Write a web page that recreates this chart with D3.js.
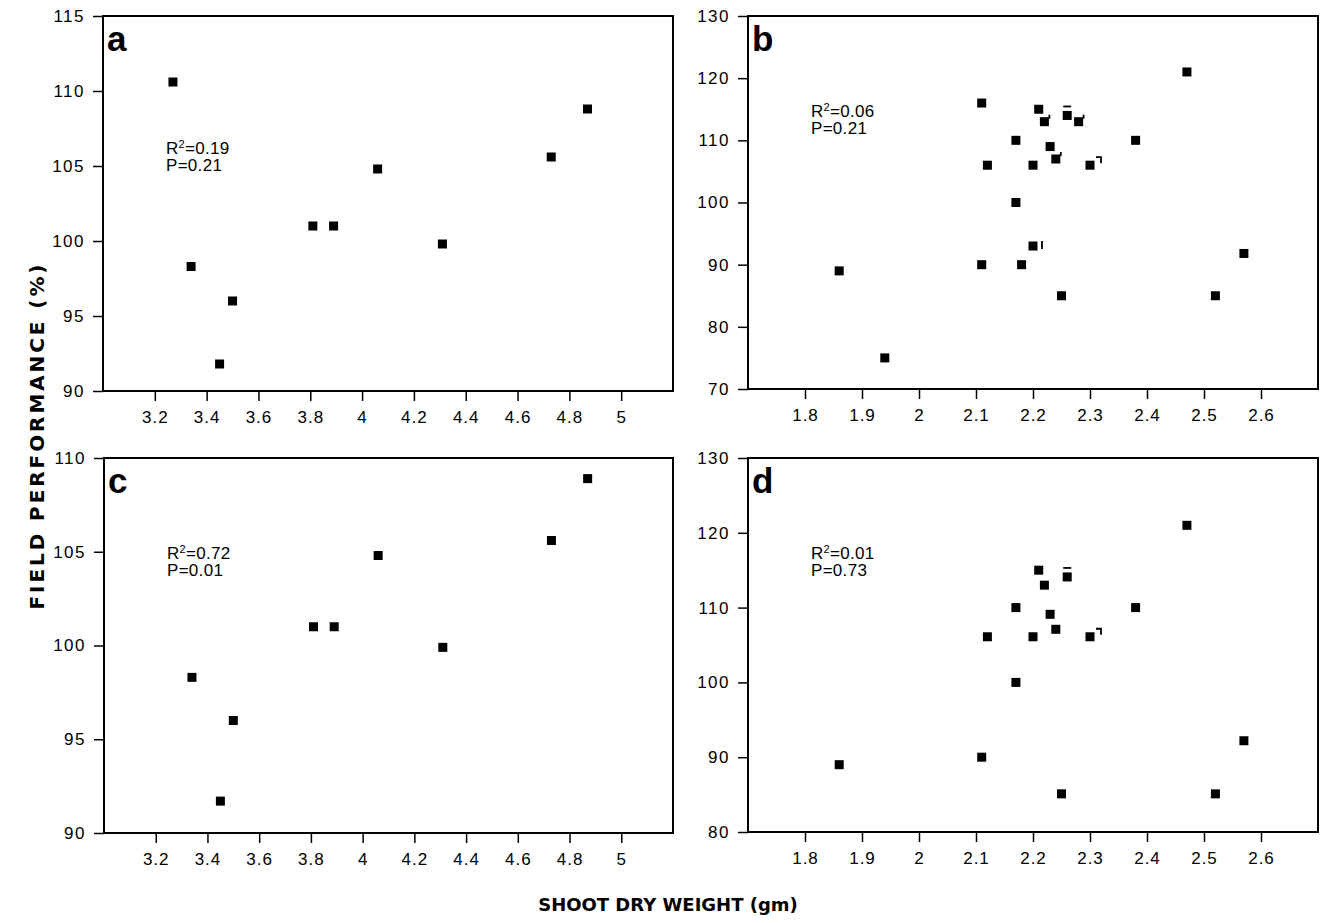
<!DOCTYPE html>
<html>
<head>
<meta charset="utf-8">
<script src="https://cdn.jsdelivr.net/npm/d3@7"></script>
<style>
  body { margin: 0; background: #fff; }
  svg text { font-family: "Liberation Sans", Arial, Helvetica, sans-serif; fill: #000; }
</style>
</head>
<body>
<div class="svg-container"></div>
<script>
// ---- data ----
// panel a
const shootA = [3.27, 3.34, 3.45, 3.50, 3.81, 3.89, 4.06, 4.31, 4.73, 4.87];
const fieldA = [110.6, 98.3, 91.8, 96.0, 101.0, 101.0, 104.8, 99.8, 105.6, 108.8];
// panel b
const shootB = [1.86, 1.94, 2.11, 2.11, 2.12, 2.17, 2.17, 2.18, 2.20, 2.20, 2.21, 2.22, 2.23, 2.24, 2.25, 2.26, 2.28, 2.30, 2.38, 2.47, 2.52, 2.57];
const fieldB = [89, 75, 116, 90, 106, 110, 100, 90, 106, 93, 115, 113, 109, 107, 85, 114, 113, 106, 110, 121, 85, 91.8];
// panel c
const shootC = [3.34, 3.45, 3.50, 3.81, 3.89, 4.06, 4.31, 4.73, 4.87];
const fieldC = [98.3, 91.7, 96.0, 101.0, 101.0, 104.8, 99.9, 105.6, 108.9];
// panel d
const shootD = [1.86, 2.11, 2.12, 2.17, 2.17, 2.20, 2.21, 2.22, 2.23, 2.24, 2.25, 2.26, 2.30, 2.38, 2.47, 2.52, 2.57];
const fieldD = [89.0, 90.0, 106.1, 110.0, 100.0, 106.1, 115.0, 113.0, 109.1, 107.1, 85.1, 114.1, 106.1, 110.0, 121.0, 85.1, 92.2];

// small overlap marks printed next to some points
const flagsB = [
  { x: 2.26, y: 114, type: 'dash' },
  { x: 2.30, y: 106, type: 'hook' },
  { x: 2.20, y: 93, type: 'bar' },
  { x: 2.22, y: 113, type: 'tick' },
  { x: 2.24, y: 107, type: 'tick' },
  { x: 2.28, y: 113, type: 'tick' }
];
const flagsD = [
  { x: 2.26, y: 114.1, type: 'dash' },
  { x: 2.30, y: 106.1, type: 'hook' }
];

// ticks
const xTicksAC = [3.2, 3.4, 3.6, 3.8, 4, 4.2, 4.4, 4.6, 4.8, 5];
const xTicksBD = [1.8, 1.9, 2, 2.1, 2.2, 2.3, 2.4, 2.5, 2.6];
const yTicksA = [90, 95, 100, 105, 110, 115];
const yTicksB = [70, 80, 90, 100, 110, 120, 130];
const yTicksC = [90, 95, 100, 105, 110];
const yTicksD = [80, 90, 100, 110, 120, 130];

// regression stats
const statsA = ['0.19', '0.21'];
const statsB = ['0.06', '0.21'];
const statsC = ['0.72', '0.01'];
const statsD = ['0.01', '0.73'];

const panelLetters = ['a', 'b', 'c', 'd'];

// ---- layout ----
const width = 1320;
const height = 923;

const panels = [
  { letter: panelLetters[0], xs: shootA, ys: fieldA, xDom: [3.0, 5.2], yDom: [90, 115],
    xTicks: xTicksAC, yTicks: yTicksA, stats: statsA, flags: [], statTop: 138,
    box: { left: 103, right: 673, top: 16, bottom: 391 } },
  { letter: panelLetters[1], xs: shootB, ys: fieldB, xDom: [1.7, 2.7], yDom: [70, 130],
    xTicks: xTicksBD, yTicks: yTicksB, stats: statsB, flags: flagsB, statTop: 101,
    box: { left: 748, right: 1318, top: 16, bottom: 389 } },
  { letter: panelLetters[2], xs: shootC, ys: fieldC, xDom: [3.0, 5.2], yDom: [90, 110],
    xTicks: xTicksAC, yTicks: yTicksC, stats: statsC, flags: [], statTop: 101,
    box: { left: 104, right: 673, top: 458, bottom: 833 } },
  { letter: panelLetters[3], xs: shootD, ys: fieldD, xDom: [1.7, 2.7], yDom: [80, 130],
    xTicks: xTicksBD, yTicks: yTicksD, stats: statsD, flags: flagsD, statTop: 101,
    box: { left: 748, right: 1318, top: 458, bottom: 832 } }
];

const svg = d3.select('.svg-container')
  .append('svg')
  .attr('width', width)
  .attr('height', height);

svg.append('rect')
  .attr('width', width)
  .attr('height', height)
  .style('fill', '#fff');

const markSize = 9;

panels.forEach(p => {
  const b = p.box;
  const x = d3.scaleLinear().domain(p.xDom).range([b.left, b.right]);
  const y = d3.scaleLinear().domain(p.yDom).range([b.bottom, b.top]);

  const g = svg.append('g');

  // x axis ticks + labels
  const xAxis = g.append('g')
    .attr('transform', `translate(0,${b.bottom})`)
    .call(d3.axisBottom(x).tickValues(p.xTicks).tickSize(10).tickPadding(10)
      .tickFormat(d => String(d)));
  xAxis.select('.domain').remove();
  xAxis.selectAll('line').attr('stroke', '#000').attr('stroke-width', 1.5);
  xAxis.selectAll('text')
    .style('font-size', '17px')
    .style('letter-spacing', '1px')
    .style('font-family', '"Liberation Sans", Arial, sans-serif');

  // y axis ticks + labels
  const yAxis = g.append('g')
    .attr('transform', `translate(${b.left},0)`)
    .call(d3.axisLeft(y).tickValues(p.yTicks).tickSize(10).tickPadding(8));
  yAxis.select('.domain').remove();
  yAxis.selectAll('line').attr('stroke', '#000').attr('stroke-width', 1.5);
  yAxis.selectAll('text')
    .style('font-size', '17px')
    .style('letter-spacing', '1.5px')
    .style('font-family', '"Liberation Sans", Arial, sans-serif');

  // frame
  g.append('rect')
    .attr('x', b.left)
    .attr('y', b.top)
    .attr('width', b.right - b.left)
    .attr('height', b.bottom - b.top)
    .attr('fill', 'none')
    .attr('stroke', '#000')
    .attr('stroke-width', 2);

  // panel letter
  g.append('text')
    .attr('x', b.left + 4)
    .attr('y', b.top + 35)
    .style('font-size', '35px')
    .style('font-weight', 'bold')
    .text(p.letter);

  // R2 / P text
  const statX = b.left + 63;
  const r2 = g.append('text')
    .attr('x', statX)
    .attr('y', b.top + p.statTop)
    .style('font-size', '17px')
    .style('letter-spacing', '0.3px');
  r2.append('tspan').text('R');
  r2.append('tspan').attr('dy', -6).style('font-size', '11px').text('2');
  r2.append('tspan').attr('dy', 6).text('=' + p.stats[0]);
  g.append('text')
    .attr('x', statX)
    .attr('y', b.top + p.statTop + 17)
    .style('font-size', '17px')
    .style('letter-spacing', '0.3px')
    .text('P=' + p.stats[1]);

  // points
  const pts = p.xs.map((v, i) => ({ x: v, y: p.ys[i] }));
  g.append('g')
    .selectAll('rect')
    .data(pts)
    .enter()
    .append('rect')
    .attr('x', d => x(d.x) - markSize / 2)
    .attr('y', d => y(d.y) - markSize / 2)
    .attr('width', markSize)
    .attr('height', markSize)
    .attr('fill', '#000');

  // overlap marks
  const flagPath = d => {
    const cx = x(d.x), cy = y(d.y);
    if (d.type === 'dash') return `M${cx - 4},${cy - 9}H${cx + 4}`;
    if (d.type === 'hook') return `M${cx + 6},${cy - 8}H${cx + 11}V${cy - 2}`;
    if (d.type === 'bar') return `M${cx + 9},${cy - 5}V${cy + 3}`;
    return `M${cx + 5},${cy - 7}V${cy - 3}`;
  };
  g.append('g')
    .selectAll('path')
    .data(p.flags)
    .enter()
    .append('path')
    .attr('d', flagPath)
    .attr('fill', 'none')
    .attr('stroke', '#000')
    .attr('stroke-width', 1.8);
});

// shared axis titles
svg.append('text')
  .attr('transform', 'translate(44,437) rotate(-90)')
  .attr('text-anchor', 'middle')
  .attr('textLength', 345)
  .attr('lengthAdjust', 'spacing')
  .style('font-family', '"DejaVu Sans", sans-serif')
  .style('font-weight', 'bold')
  .style('font-size', '20px')
  .text('FIELD PERFORMANCE (%)');

svg.append('text')
  .attr('x', 668)
  .attr('y', 911)
  .attr('text-anchor', 'middle')
  .style('font-family', '"DejaVu Sans", sans-serif')
  .style('font-weight', 'bold')
  .style('font-size', '18px')
  .text('SHOOT DRY WEIGHT (gm)');
</script>
</body>
</html>
